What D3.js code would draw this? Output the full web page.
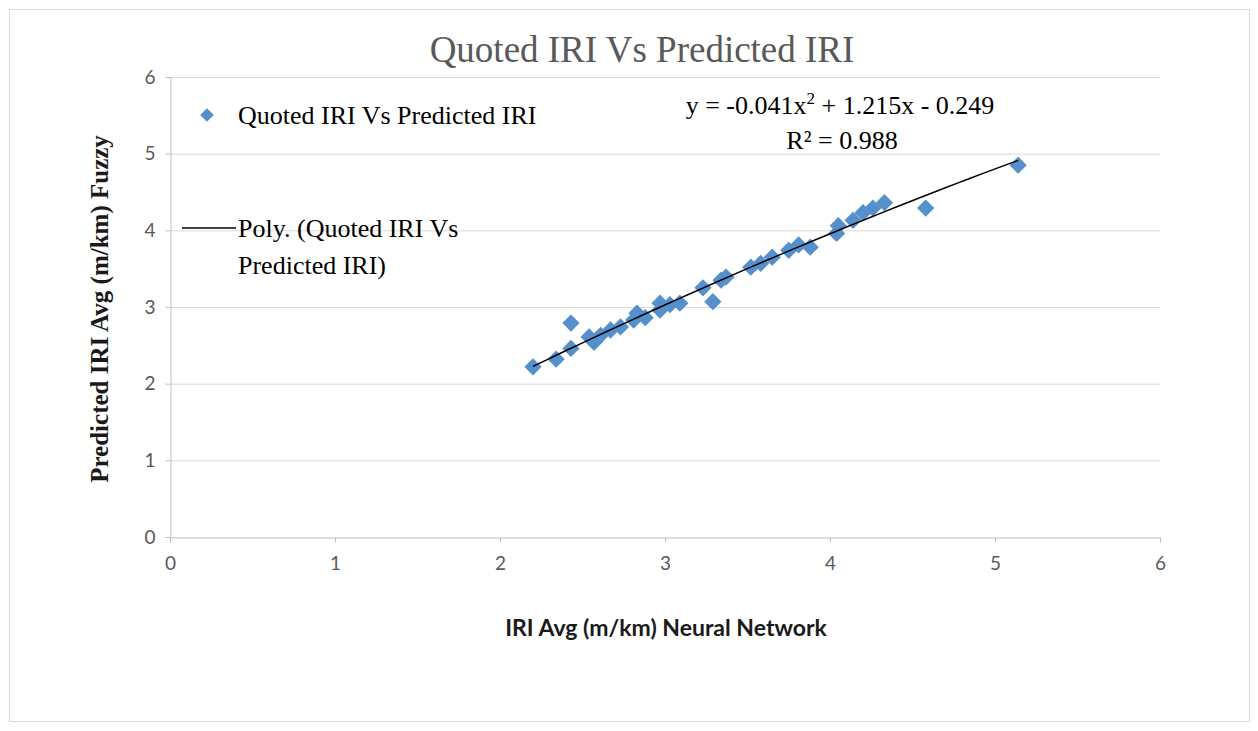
<!DOCTYPE html>
<html>
<head>
<meta charset="utf-8">
<script src="https://cdn.jsdelivr.net/npm/d3@7"></script>
<style>
  body { margin: 0; background: #fff; }
  svg { display: block; }
</style>
</head>
<body>
<svg id="chart" width="1258" height="731"></svg>
<script>
// Quoted IRI (neural network) vs predicted IRI (fuzzy)
const neuralIRI = [2.20, 2.34, 2.43, 2.43, 2.54, 2.57, 2.61, 2.67, 2.73, 2.81, 2.83, 2.88,
  2.97, 2.97, 3.03, 3.09, 3.23, 3.29, 3.34, 3.37, 3.52, 3.58, 3.65, 3.75, 3.81, 3.88,
  4.04, 4.05, 4.14, 4.20, 4.26, 4.33, 4.58, 5.14];
const fuzzyIRI = [2.22, 2.32, 2.79, 2.46, 2.61, 2.54, 2.63, 2.70, 2.74, 2.83, 2.92, 2.86,
  3.05, 2.96, 3.03, 3.05, 3.25, 3.07, 3.35, 3.39, 3.52, 3.57, 3.65, 3.74, 3.81, 3.78,
  3.96, 4.06, 4.13, 4.23, 4.29, 4.36, 4.29, 4.85];
const trendCoef = [-0.041, 1.215, -0.249]; // from the equation shown on the chart
const xTicks = [0, 1, 2, 3, 4, 5, 6];
const yTicks = [0, 1, 2, 3, 4, 5, 6];

const titleText = "Quoted IRI Vs Predicted IRI";
const seriesName = "Quoted IRI Vs Predicted IRI";

const svg = d3.select("#chart");
const plotLeft = 170, plotRight = 1160, plotTop = 77, plotBottom = 537;

const x = d3.scaleLinear().domain([0, 6]).range([plotLeft, plotRight]);
const y = d3.scaleLinear().domain([0, 6]).range([plotBottom, plotTop]);

const serif = "'Liberation Serif', 'Times New Roman', serif";
const sans = "Lato, 'Open Sans', sans-serif";

// outer chart border
svg.append("rect")
  .attr("x", 9.5).attr("y", 9.5)
  .attr("width", 1240).attr("height", 712)
  .attr("fill", "none").attr("stroke", "#d9d9d9");

// horizontal grid lines
svg.append("g")
  .selectAll("line")
  .data(yTicks.filter(d => d > 0))
  .join("line")
  .attr("x1", plotLeft).attr("x2", plotRight)
  .attr("y1", d => y(d) + 0.5).attr("y2", d => y(d) + 0.5)
  .attr("stroke", "#d9d9d9");

// axes
const xAxis = d3.axisBottom(x).tickValues(xTicks).tickFormat(d3.format("d"))
  .tickSize(5).tickPadding(14);
const yAxis = d3.axisLeft(y).tickValues(yTicks).tickFormat(d3.format("d"))
  .tickSize(5).tickPadding(10);

const gx = svg.append("g")
  .attr("transform", `translate(0, ${plotBottom + 0.5})`)
  .call(xAxis);
const gy = svg.append("g")
  .attr("transform", `translate(${plotLeft + 0.5}, 0)`)
  .call(yAxis);

[gx, gy].forEach(g => {
  g.select(".domain").attr("stroke", "#bfbfbf");
  g.selectAll(".tick line").attr("stroke", "#bfbfbf");
  g.selectAll(".tick text")
    .attr("fill", "#595959")
    .style("font-family", sans)
    .style("font-size", "19px");
});

// trendline (polynomial, order 2)
const [a, b, c] = trendCoef;
const xMin = d3.min(neuralIRI), xMax = d3.max(neuralIRI);
const trendPts = d3.range(0, 41).map(i => {
  const xv = xMin + (xMax - xMin) * i / 40;
  return [xv, a * xv * xv + b * xv + c];
});

// points
const pts = neuralIRI.map((v, i) => ({ x: v, y: fuzzyIRI[i] }));
const diamond = d3.symbol().type(d3.symbolDiamond2).size(190);

svg.append("g")
  .selectAll("path")
  .data(pts)
  .join("path")
  .attr("d", diamond)
  .attr("transform", d => `translate(${x(d.x)}, ${y(d.y)})`)
  .attr("fill", "#5590cc");

svg.append("path")
  .datum(trendPts)
  .attr("d", d3.line().x(d => x(d[0])).y(d => y(d[1])))
  .attr("fill", "none")
  .attr("stroke", "#000")
  .attr("stroke-width", 1.5);

// title
svg.append("text")
  .attr("x", 642).attr("y", 62)
  .attr("text-anchor", "middle")
  .attr("fill", "#595959")
  .style("font-family", serif)
  .style("font-size", "37px")
  .text(titleText);

// legend
svg.append("path")
  .attr("d", d3.symbol().type(d3.symbolDiamond2).size(120))
  .attr("transform", "translate(207, 115)")
  .attr("fill", "#5590cc");
svg.append("text")
  .attr("x", 238).attr("y", 124)
  .style("font-family", serif).style("font-size", "26px")
  .text(seriesName);

svg.append("line")
  .attr("x1", 182).attr("x2", 236)
  .attr("y1", 228).attr("y2", 228)
  .attr("stroke", "#000").attr("stroke-width", 1.5);
svg.append("text")
  .attr("x", 238).attr("y", 237)
  .style("font-family", serif).style("font-size", "26px")
  .text("Poly. (Quoted IRI Vs");
svg.append("text")
  .attr("x", 238).attr("y", 274)
  .style("font-family", serif).style("font-size", "26px")
  .text("Predicted IRI)");

// trendline equation
const eq = svg.append("text")
  .attr("x", 840).attr("y", 114)
  .attr("text-anchor", "middle")
  .style("font-family", serif).style("font-size", "26px");
eq.append("tspan").text(`y = ${a}x`);
eq.append("tspan").attr("dy", -10).style("font-size", "17px").text("2");
eq.append("tspan").attr("dy", 10).text(` + ${b}x - ${Math.abs(c)}`);

svg.append("text")
  .attr("x", 842).attr("y", 149)
  .attr("text-anchor", "middle")
  .style("font-family", serif).style("font-size", "26px")
  .text("R² = 0.988");

// axis titles
svg.append("text")
  .attr("x", 666).attr("y", 636)
  .attr("text-anchor", "middle")
  .attr("fill", "#1a1a1a")
  .style("font-family", sans)
  .style("font-weight", "bold")
  .style("font-size", "23px")
  .text("IRI Avg (m/km) Neural Network");

svg.append("text")
  .attr("transform", "translate(108, 309) rotate(-90)")
  .attr("text-anchor", "middle")
  .attr("fill", "#1a1a1a")
  .style("font-family", serif)
  .style("font-weight", "bold")
  .style("font-size", "25px")
  .text("Predicted IRI Avg (m/km) Fuzzy");
</script>
</body>
</html>
